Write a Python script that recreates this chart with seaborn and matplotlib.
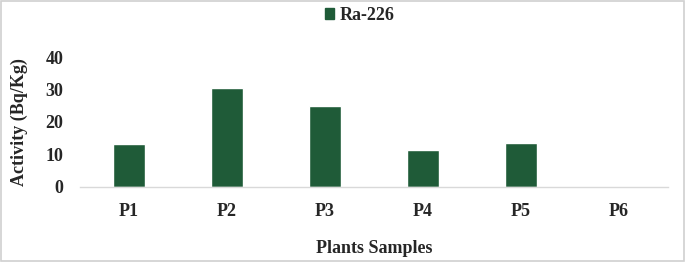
import matplotlib
matplotlib.use('Agg')
import matplotlib.pyplot as plt
import matplotlib.patches as mpatches
import seaborn as sns
import pandas as pd

# data
samples = ['P1', 'P2', 'P3', 'P4', 'P5', 'P6']
ra226 = [13.3, 30.5, 25.0, 11.4, 13.6, 0.0]
yticks = [0, 10, 20, 30, 40]

sns.set_style("white")
plt.rcParams['font.family'] = ['Liberation Serif', 'DejaVu Serif']
plt.rcParams['font.weight'] = 'bold'

BAR_COLOR = '#1f5b38'

df = pd.DataFrame({'sample': samples, 'activity': ra226, 'isotope': ['Ra-226'] * len(samples)})

fig = plt.figure(figsize=(6.85, 2.62), dpi=100)
ax = fig.add_axes([0.117, 0.288, 0.858, 0.494])

sns.barplot(data=df, x='sample', y='activity', hue='isotope', palette=[BAR_COLOR],
            width=0.32, saturation=1, ax=ax, legend=False)

ax.set_ylim(0, 40)
ax.set_yticks(yticks)
ax.set_xlim(-0.5, len(samples) - 0.5)
sns.despine(ax=ax, left=True, top=True, right=True)
ax.spines['bottom'].set_color('#d9d9d9')
ax.spines['bottom'].set_linewidth(1.0)
ax.tick_params(axis='both', length=0, labelsize=13)
ax.tick_params(axis='y', pad=12)
ax.tick_params(axis='x', pad=12)
for lab in ax.get_xticklabels() + ax.get_yticklabels():
    lab.set_fontweight('bold')

ax.set_xlabel('Plants Samples', fontsize=13, fontweight='bold', labelpad=14)
ax.set_ylabel('Activity (Bq/Kg)', fontsize=13, fontweight='bold', labelpad=13)

# legend at top centre
handle = mpatches.Patch(color=BAR_COLOR, label='Ra-226')
fig.legend(handles=[handle], loc='center', bbox_to_anchor=(0.525, 0.94), frameon=False,
           prop={'size': 13, 'weight': 'bold'}, handlelength=0.55, handleheight=0.55,
           handletextpad=0.3)

# light grey frame around the picture
fig.patches.append(mpatches.Rectangle((0.002, 0.004), 0.996, 0.992, transform=fig.transFigure,
                                      fill=False, edgecolor='#d0d0d0', linewidth=1.2))

plt.savefig('out.png', dpi=100)
plt.close()
